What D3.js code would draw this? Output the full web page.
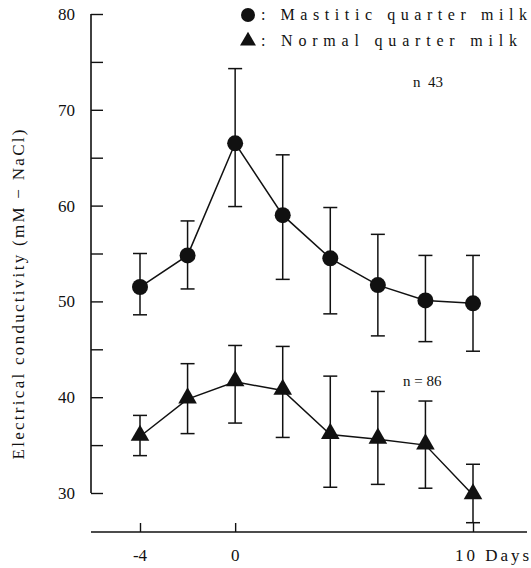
<!DOCTYPE html>
<html>
<head>
<meta charset="utf-8">
<script src="https://cdn.jsdelivr.net/npm/d3@7"></script>
<style>
  html, body { margin: 0; padding: 0; background: #fff; }
  svg { display: block; }
  text { font-family: "Liberation Serif", "DejaVu Serif", serif; fill: #111; }
</style>
</head>
<body>
<svg id="chart" width="531" height="568"></svg>
<script>
// ---- data ----
const days = [-4, -2, 0, 2, 4, 6, 8, 10];
const mastiticMean  = [51.5, 54.8, 66.5, 59.0, 54.5, 51.7, 50.1, 49.8];
const mastiticUpper = [55.0, 58.4, 74.3, 65.3, 59.8, 57.0, 54.8, 54.8];
const mastiticLower = [48.6, 51.3, 59.9, 52.3, 48.7, 46.4, 45.8, 44.8];
const normalMean  = [35.9, 39.8, 41.6, 40.7, 36.1, 35.6, 35.0, 29.8];
const normalUpper = [38.1, 43.5, 45.4, 45.3, 42.2, 40.6, 39.6, 33.0];
const normalLower = [33.9, 36.2, 37.3, 35.8, 30.6, 30.9, 30.5, 26.9];
const yMajorTicks = [30, 40, 50, 60, 70, 80];
const yMinorTicks = [35, 45, 55, 65, 75];
const xTicks = [-4, 0, 10];
const xTickLabels = ["-4", "0", "10 Days"];
const legendLabels = [": Mastitic quarter milk", ": Normal quarter milk"];
const nLabels = ["n  43", "n = 86"];
const yTitle = "Electrical conductivity (mM \u2212 NaCl)";

// ---- layout ----
const svg = d3.select("#chart");
const x = d3.scaleLinear().domain([-4, 10]).range([140, 473]);
const y = d3.scaleLinear().domain([30, 80]).range([493, 14]);
const axisX0 = 91, xAxisY = 532;

// y axis
const yAxis = d3.axisRight(y)
  .tickValues(yMajorTicks.concat(yMinorTicks))
  .tickSize(12)
  .tickFormat("");
const gy = svg.append("g").attr("transform", `translate(${axisX0},0)`).call(yAxis);
gy.select(".domain").attr("d", `M0,${y(80)}V${y(30)}`).attr("stroke", "#111").attr("stroke-width", 1.6);
gy.selectAll(".tick line").attr("stroke", "#111").attr("stroke-width", 1.4);

svg.selectAll(".ylab").data(yMajorTicks).enter().append("text")
  .attr("x", 75).attr("y", d => y(d) + 6)
  .attr("text-anchor", "end").attr("font-size", 17).text(d => d);

svg.append("text")
  .attr("transform", `translate(24,${(y(80)+y(30))/2 + 41}) rotate(-90)`)
  .attr("text-anchor", "middle").attr("font-size", 17)
  .attr("textLength", 330).attr("lengthAdjust", "spacing")
  .text(yTitle);

// x axis
const xAxis = d3.axisTop(x).tickValues(xTicks).tickSize(9).tickFormat("");
const gx = svg.append("g").attr("transform", `translate(0,${xAxisY})`).call(xAxis);
gx.select(".domain").attr("d", `M${axisX0},0H527`).attr("stroke", "#111").attr("stroke-width", 1.6);
gx.selectAll(".tick line").attr("stroke", "#111").attr("stroke-width", 1.4);

svg.selectAll(".xlab").data(xTicks).enter().append("text")
  .attr("x", (d, i) => i === 2 ? x(d) - 18 : x(d))
  .attr("y", 561)
  .attr("text-anchor", (d, i) => i === 2 ? "start" : "middle")
  .attr("font-size", 17)
  .each(function (d, i) { if (i === 2) d3.select(this).attr("textLength", 74).attr("lengthAdjust", "spacing"); })
  .text((d, i) => xTickLabels[i]);

// series drawing
const line = d3.line().x(d => x(d.day)).y(d => y(d.v));
function series(mean, up, lo) {
  return days.map((d, i) => ({ day: d, v: mean[i], up: up[i], lo: lo[i] }));
}
const mast = series(mastiticMean, mastiticUpper, mastiticLower);
const norm = series(normalMean, normalUpper, normalLower);

function drawErr(data, cls) {
  const g = svg.append("g").attr("class", cls).attr("stroke", "#111").attr("stroke-width", 1.5);
  g.selectAll(".v").data(data).enter().append("line")
    .attr("x1", d => x(d.day)).attr("x2", d => x(d.day))
    .attr("y1", d => y(d.up)).attr("y2", d => y(d.lo));
  g.selectAll(".cu").data(data).enter().append("line")
    .attr("x1", d => x(d.day) - 7).attr("x2", d => x(d.day) + 7)
    .attr("y1", d => y(d.up)).attr("y2", d => y(d.up));
  g.selectAll(".cl").data(data).enter().append("line")
    .attr("x1", d => x(d.day) - 7).attr("x2", d => x(d.day) + 7)
    .attr("y1", d => y(d.lo)).attr("y2", d => y(d.lo));
}
drawErr(mast, "errM");
drawErr(norm, "errN");

svg.append("path").datum(mast).attr("d", line).attr("fill", "none").attr("stroke", "#111").attr("stroke-width", 1.5);
svg.append("path").datum(norm).attr("d", line).attr("fill", "none").attr("stroke", "#111").attr("stroke-width", 1.5);

const circ = d3.symbol().type(d3.symbolCircle).size(Math.PI * 8 * 8);
const tri = d3.symbol().type(d3.symbolTriangle).size(150);

svg.selectAll(".mk").data(mast).enter().append("path")
  .attr("d", circ).attr("transform", d => `translate(${x(d.day)},${y(d.v)})`).attr("fill", "#111");
svg.selectAll(".nk").data(norm).enter().append("path")
  .attr("d", tri).attr("transform", d => `translate(${x(d.day)},${y(d.v) - 1})`).attr("fill", "#111");

// legend
const legY = [15, 41];
svg.append("path").attr("d", d3.symbol().type(d3.symbolCircle).size(Math.PI * 7 * 7)())
  .attr("transform", `translate(248,${legY[0]})`).attr("fill", "#111");
svg.append("path").attr("d", d3.symbol().type(d3.symbolTriangle).size(110)())
  .attr("transform", `translate(248,${legY[1]})`).attr("fill", "#111");
svg.selectAll(".leg").data(legendLabels).enter().append("text")
  .attr("x", 261).attr("y", (d, i) => legY[i] + 5)
  .attr("font-size", 16)
  .attr("textLength", (d, i) => i === 0 ? 266 : 256)
  .attr("lengthAdjust", "spacing")
  .text(d => d);

// n labels
svg.append("text").attr("x", 413).attr("y", 87).attr("font-size", 15).attr("xml:space", "preserve").text(nLabels[0]);
svg.append("text").attr("x", 403).attr("y", 386).attr("font-size", 15).text(nLabels[1]);
</script>
</body>
</html>
